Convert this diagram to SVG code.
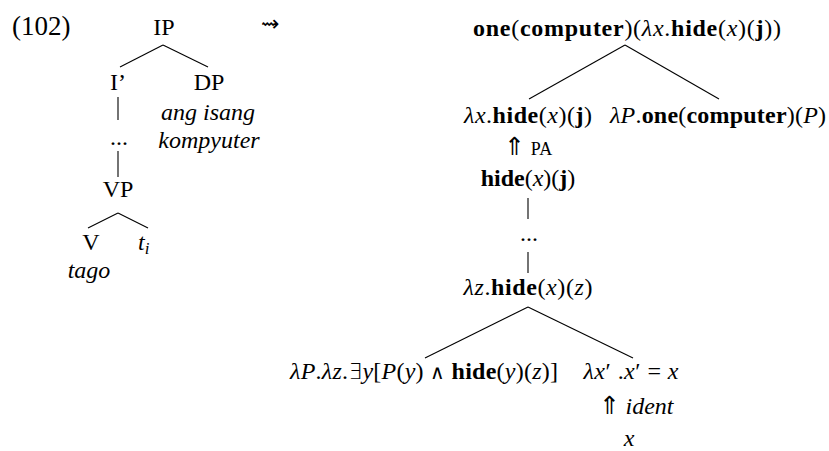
<svg xmlns="http://www.w3.org/2000/svg" width="829" height="451" viewBox="0 0 829 451">
<style>
text { font-family: "Liberation Serif", "DejaVu Serif", serif; font-size: 24px; fill: #000; }
.m { text-anchor: middle; }
.i { font-style: italic; }
.b { font-weight: bold; }
.sm { font-size: 17px; }
.pa { font-size: 18px; }
.sym { font-family: "DejaVu Sans", sans-serif; font-weight: 200; font-size: 20px; }
.up { font-family: "DejaVu Sans", sans-serif; font-weight: 200; font-size: 25px; }
line { stroke: #000; stroke-width: 1.1; }
</style>
<rect width="829" height="451" fill="#fff"/>
<g id="label"><text x="12" y="35" style="font-size:27px">(102)</text></g>
<g id="mapsto"><text class="sym" x="261" y="31" style="font-size:22px">⇝</text></g>
<g id="connectors">
  <line x1="163" y1="45" x2="120" y2="67"/>
  <line x1="163" y1="45" x2="208" y2="67"/>
  <line x1="118" y1="97" x2="118" y2="120"/>
  <line x1="118" y1="151" x2="118" y2="177"/>
  <line x1="118" y1="213" x2="88" y2="228"/>
  <line x1="118" y1="213" x2="148" y2="228"/>
  <line x1="625" y1="45" x2="529" y2="99"/>
  <line x1="625" y1="45" x2="719" y2="99"/>
  <line x1="528" y1="198" x2="528" y2="219"/>
  <line x1="528" y1="252" x2="528" y2="273"/>
  <line x1="528" y1="307" x2="425" y2="358"/>
  <line x1="528" y1="307" x2="633" y2="358"/>
</g>
<g id="n-IP"><text class="m" x="164" y="35">IP</text></g>
<g id="n-Ibar"><text class="m" x="118" y="90">I’</text></g>
<g id="n-DP"><text class="m" x="209" y="90">DP</text>
  <text class="m i" x="208" y="120">ang isang</text>
  <text class="m i" x="209" y="148">kompyuter</text></g>
<g id="n-dots1"><text class="m" x="119" y="145">...</text></g>
<g id="n-VP"><text class="m" x="118" y="197">VP</text></g>
<g id="n-V"><text class="m" x="91" y="250">V</text>
  <text class="m i" x="89" y="278">tago</text></g>
<g id="n-t"><text class="i" x="138" y="250">t<tspan class="sm" dy="4">i</tspan></text></g>

<g id="n-top"><text class="m" x="627" y="36" textLength="308" lengthAdjust="spacing"><tspan class="b">one</tspan>(<tspan class="b">computer</tspan>)(<tspan class="i">λx</tspan>.<tspan class="b">hide</tspan>(<tspan class="i">x</tspan>)(<tspan class="b">j</tspan>))</text></g>
<g id="n-lx"><text class="m" x="528" y="123" textLength="128" lengthAdjust="spacing"><tspan class="i">λx</tspan>.<tspan class="b">hide</tspan>(<tspan class="i">x</tspan>)(<tspan class="b">j</tspan>)</text></g>
<g id="n-lP"><text class="m" x="718" y="123" textLength="216" lengthAdjust="spacing"><tspan class="i">λP</tspan>.<tspan class="b">one</tspan>(<tspan class="b">computer</tspan>)(<tspan class="i">P</tspan>)</text></g>
<g id="n-PA"><text class="m" x="528" y="155"><tspan class="up">⇑</tspan> <tspan class="pa">PA</tspan></text></g>
<g id="n-hide"><text class="m" x="528" y="186"><tspan class="b">hide</tspan>(<tspan class="i">x</tspan>)(<tspan class="b">j</tspan>)</text></g>
<g id="n-dots2"><text class="m" x="529" y="241">...</text></g>
<g id="n-lz"><text class="m" x="528" y="295" textLength="129" lengthAdjust="spacing"><tspan class="i">λz</tspan>.<tspan class="b">hide</tspan>(<tspan class="i">x</tspan>)(<tspan class="i">z</tspan>)</text></g>
<g id="n-det"><text class="m" x="424" y="379" textLength="268" lengthAdjust="spacing"><tspan class="i">λP</tspan>.<tspan class="i">λz</tspan>.<tspan class="up" style="font-size:22px">∃</tspan><tspan class="i">y</tspan>[<tspan class="i">P</tspan>(<tspan class="i">y</tspan>) <tspan class="sym">∧</tspan> <tspan class="b">hide</tspan>(<tspan class="i">y</tspan>)(<tspan class="i">z</tspan>)]</text></g>
<g id="n-ident"><text class="m" x="631" y="379" textLength="95" lengthAdjust="spacing"><tspan class="i">λx</tspan>′ .<tspan class="i">x</tspan>′ = <tspan class="i">x</tspan></text></g>
<g id="n-identlabel"><text class="m" x="636" y="414"><tspan class="up">⇑</tspan> <tspan class="i">ident</tspan></text></g>
<g id="n-x"><text class="m i" x="629" y="446">x</text></g>
</svg>
